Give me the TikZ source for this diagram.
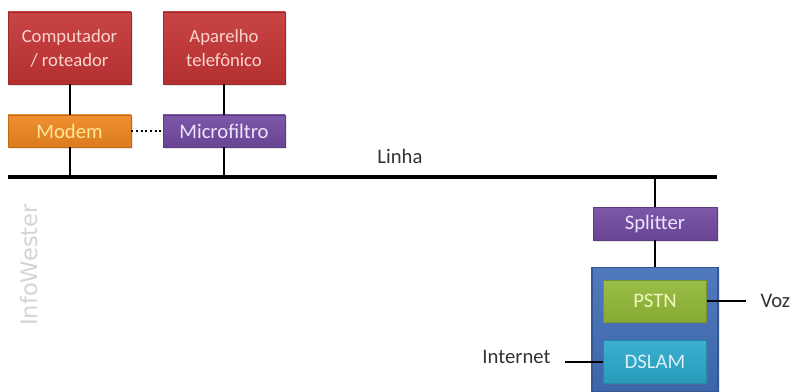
\documentclass[tikz,border=0pt]{standalone}
\usepackage{fontspec}
\setmainfont{Carlito}
\newfontfamily\wmfont{DejaVu Sans}
\usetikzlibrary{shadows}

\definecolor{boxred}{RGB}{196,52,52}
\definecolor{boxorange}{RGB}{238,134,32}
\definecolor{boxpurple}{RGB}{114,74,162}
\definecolor{boxgreen}{RGB}{146,184,56}
\definecolor{boxcyan}{RGB}{44,168,202}
\definecolor{boxblue}{RGB}{66,110,184}
\definecolor{labelgray}{RGB}{50,50,50}

\tikzset{every picture/.style={line width=0.75pt}}

\begin{document}
\begin{tikzpicture}[x=0.75pt,y=0.75pt,yscale=-1,xscale=1,
  box/.style={draw=#1!80!black, line width=0.6pt, top color=#1!92!white, bottom color=#1!92!black,
    inner sep=0pt, align=center,
    drop shadow={opacity=0.2, shadow xshift=1.2pt, shadow yshift=-1.2pt}},
  bigtxt/.style={font=\fontsize{14}{18}\selectfont},
  smalltxt/.style={font=\fontsize{15.5}{18}\selectfont},
  wire/.style={line width=1.5pt},
  label/.style={text=labelgray, font=\fontsize{15.5}{18}\selectfont, inner sep=0.75pt}]
\path[use as bounding box] (0,0) rectangle (792,392);

%Top boxes
\node [box=boxred, bigtxt, text={rgb,255:red,250;green,214;blue,206}, minimum width=92.25pt, minimum height=54pt] (comp) at (69.5,48) {Computador\\/ roteador};
\node [box=boxred, bigtxt, text={rgb,255:red,250;green,214;blue,206}, minimum width=91.5pt, minimum height=54pt] (fone) at (224,48) {Aparelho\\telefônico};

%Modem and microfilter
\node [box=boxorange, smalltxt, text={rgb,255:red,255;green,232;blue,150}, minimum width=92.25pt, minimum height=24pt] (modem) at (69.5,131) {Modem};
\node [box=boxpurple, smalltxt, text={rgb,255:red,236;green,228;blue,250}, minimum width=91.5pt, minimum height=24pt] (micro) at (224,131) {Microfiltro};

%Line
\coordinate (linhaL) at (8,177);
\coordinate (linhaR) at (717,177);
\draw [line width=3pt] (linhaL) -- (linhaR);
\node [label] (linha) at (400,156) {Linha};

%Splitter and central
\node [box=boxpurple, smalltxt, text={rgb,255:red,236;green,228;blue,250}, minimum width=93pt, minimum height=24.75pt] (split) at (655,223.5) {Splitter};
\node [box=boxblue, line width=1.2pt, minimum width=94.5pt, minimum height=93pt] (central) at (655,329.5) {};
\node [box=boxgreen, smalltxt, text={rgb,255:red,240;green,248;blue,190}, minimum width=77.25pt, minimum height=31.5pt] (pstn) at (655,301) {PSTN};
\node [box=boxcyan, smalltxt, text={rgb,255:red,216;green,240;blue,248}, minimum width=77.25pt, minimum height=32.25pt] (dslam) at (655,362) {DSLAM};

% Text Node
\node [label, anchor=west] (voz) at (759,301) {Voz};
\node [label, anchor=east] (inet) at (552,357) {Internet};

%Connectors
\draw [wire] (comp.south) -- (modem.north);
\draw [wire] (modem.south) -- (modem.south |- linhaL);
\draw [wire] (fone.south) -- (micro.north);
\draw [wire] (micro.south) -- (micro.south |- linhaL);
\draw [line width=1.5pt, dotted] (modem.east) -- (micro.west);
\draw [wire] (split.north |- linhaL) -- (split.north);
\draw [wire] (split.south) -- (central.north);
\draw [wire, shorten >=10pt] (pstn.east) -- (voz.west);
\draw [wire, shorten <=10pt] (inet.east |- dslam.west) -- (dslam.west);

%Watermark
\node [rotate=90, text={rgb,255:red,212;green,212;blue,212}, font=\wmfont\fontsize{17}{20}\selectfont] (marca) at (29,265) {InfoWester};

\end{tikzpicture}
\end{document}
